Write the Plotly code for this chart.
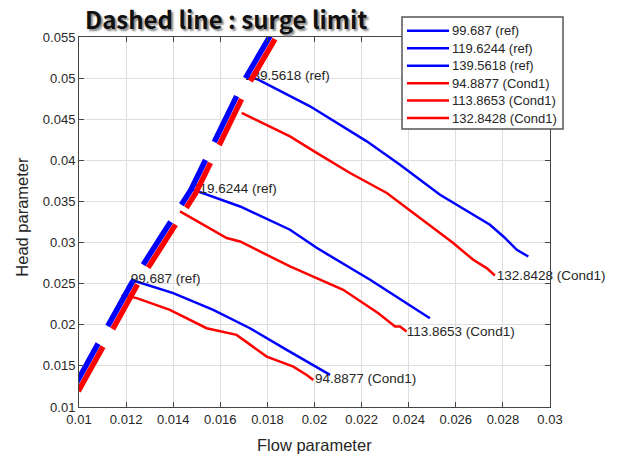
import plotly.graph_objects as go

# ---------------- data ----------------
names = ["99.687 (ref)", "119.6244 (ref)", "139.5618 (ref)",
         "94.8877 (Cond1)", "113.8653 (Cond1)", "132.8428 (Cond1)"]
colors = ["#0000ff", "#0000ff", "#0000ff", "#ff0000", "#ff0000", "#ff0000"]

ref1_x = [0.01220, 0.01400, 0.01570, 0.01726, 0.01882, 0.02009, 0.02066]
ref1_y = [0.02547, 0.02385, 0.02181, 0.01958, 0.01694, 0.01491, 0.01390]

ref2_x = [0.01484, 0.01684, 0.01896, 0.02009, 0.02236, 0.02349, 0.02490]
ref2_y = [0.03643, 0.03439, 0.03156, 0.02936, 0.02547, 0.02343, 0.02080]

ref3_x = [0.01710, 0.01761, 0.01981, 0.02108, 0.02222, 0.02363, 0.02533, 0.02745, 0.02802, 0.02859, 0.02908]
ref3_y = [0.05030, 0.04982, 0.04657, 0.04430, 0.04231, 0.03947, 0.03582, 0.03217, 0.03074, 0.02912, 0.02830]

cond1_x = [0.01181, 0.01245, 0.01386, 0.01542, 0.01669, 0.01797, 0.01910, 0.01967, 0.01995]
cond1_y = [0.02364, 0.02324, 0.02181, 0.01958, 0.01877, 0.01613, 0.01491, 0.01390, 0.01329]

cond2_x = [0.01429, 0.01627, 0.01684, 0.01896, 0.02122, 0.02271, 0.02342, 0.02363, 0.02391]
cond2_y = [0.03379, 0.03055, 0.03013, 0.02709, 0.02425, 0.02141, 0.01978, 0.01978, 0.01917]

cond3_x = [0.01691, 0.01896, 0.02009, 0.02151, 0.02307, 0.02420, 0.02589, 0.02674, 0.02731, 0.02766]
cond3_y = [0.04577, 0.04292, 0.04090, 0.03846, 0.03603, 0.03359, 0.02994, 0.02790, 0.02689, 0.02600]

series_x = [ref1_x, ref2_x, ref3_x, cond1_x, cond2_x, cond3_x]
series_y = [ref1_y, ref2_y, ref3_y, cond1_y, cond2_y, cond3_y]

# surge limit lines (ref = blue, Cond1 = red)
surge_ref_x = [0.00976, 0.01230, 0.01475, 0.01705, 0.01811]
surge_ref_y = [0.01228, 0.02540, 0.03640, 0.04990, 0.05510]
surge_cond_x = [0.00997, 0.01251, 0.01496, 0.01726, 0.01832]
surge_cond_y = [0.01192, 0.02504, 0.03604, 0.04954, 0.05474]

# curve labels (text left edge position)
label_text = names
label_x = [0.01220, 0.01484, 0.01705, 0.02002, 0.02392, 0.02774]
label_y = [0.02547, 0.03643, 0.05019, 0.01329, 0.01901, 0.02583]

x_ticks = [0.01, 0.012, 0.014, 0.016, 0.018, 0.02, 0.022, 0.024, 0.026, 0.028, 0.03]
x_tick_text = ["0.01", "0.012", "0.014", "0.016", "0.018", "0.02", "0.022", "0.024", "0.026", "0.028", "0.03"]
y_ticks = [0.01, 0.015, 0.02, 0.025, 0.03, 0.035, 0.04, 0.045, 0.05, 0.055]
y_tick_text = ["0.01", "0.015", "0.02", "0.025", "0.03", "0.035", "0.04", "0.045", "0.05", "0.055"]

title_text = "Dashed line : surge limit"
x_title = "Flow parameter"
y_title = "Head parameter"

# ---------------- figure ----------------
W, H = 619, 455
L, R, T, B = 79, 69, 37, 48
pw, ph = W - L - R, H - T - B
def px_x(p):
    return (p - L) / pw
def px_y(p):
    return (H - B - p) / ph

FONT = "Liberation Sans, Arial, sans-serif"
TXT = "#262626"

fig = go.Figure()

for xs, ys, c, n in zip(series_x, series_y, colors, names):
    fig.add_trace(go.Scatter(x=xs, y=ys, mode="lines", name=n,
                             line=dict(color=c, width=2.5), showlegend=False))

fig.add_trace(go.Scatter(x=label_x, y=label_y, mode="text", text=label_text,
                         textposition="middle right", cliponaxis=False,
                         textfont=dict(family=FONT, size=13.5, color=TXT),
                         showlegend=False, hoverinfo="skip"))

fig.add_trace(go.Scatter(x=surge_cond_x, y=surge_cond_y, mode="lines",
                         line=dict(color="#ff0000", width=5.5, dash="51px,20px"),
                         showlegend=False))
fig.add_trace(go.Scatter(x=surge_ref_x, y=surge_ref_y, mode="lines",
                         line=dict(color="#0000ff", width=5.5, dash="51px,20px"),
                         showlegend=False))

axis_common = dict(showgrid=True, gridcolor="#dedede", gridwidth=1,
                   showline=True, linecolor="#444444", linewidth=1, mirror="ticks",
                   ticks="inside", ticklen=5, tickcolor="#444444",
                   tickfont=dict(family=FONT, size=13, color=TXT),
                   zeroline=False)

fig.update_xaxes(range=[0.01, 0.03], tickvals=x_ticks, ticktext=x_tick_text, **axis_common)
fig.update_yaxes(range=[0.01, 0.055], tickvals=y_ticks, ticktext=y_tick_text, **axis_common)

shapes = []
annotations = []

# manual legend box
lx0, lx1, ly0, ly1 = 402, 563, 17, 129
shapes.append(dict(type="rect", xref="paper", yref="paper",
                   x0=px_x(lx0), x1=px_x(lx1), y0=px_y(ly1), y1=px_y(ly0),
                   line=dict(color="#555555", width=1.5), fillcolor="white", layer="above"))
row_y = [30.7, 48.3, 65.7, 83.3, 100.5, 118]
for n, c, ry in zip(names, colors, row_y):
    shapes.append(dict(type="line", xref="paper", yref="paper",
                       x0=px_x(407), x1=px_x(449), y0=px_y(ry), y1=px_y(ry),
                       line=dict(color=c, width=2.5), layer="above"))
    annotations.append(dict(text=n, xref="paper", yref="paper", x=px_x(450), y=px_y(ry),
                            xanchor="left", yanchor="middle", showarrow=False,
                            font=dict(family=FONT, size=13, color=TXT)))

annotations.append(dict(text="<b>" + title_text + "</b>", xref="paper", yref="paper",
                        x=px_x(83), y=px_y(18), xanchor="left", yanchor="middle",
                        showarrow=False,
                        font=dict(family="Noto Sans CJK KR, Noto Sans, sans-serif", size=24,
                                  color="#111111", shadow="2px 2px 2px #888888")))
annotations.append(dict(text=x_title, xref="paper", yref="paper", x=0.5, y=px_y(445),
                        xanchor="center", yanchor="middle", showarrow=False,
                        font=dict(family=FONT, size=16.5, color=TXT)))
annotations.append(dict(text=y_title, xref="paper", yref="paper", x=px_x(21.7), y=px_y(217),
                        xanchor="center", yanchor="middle", showarrow=False, textangle=-90,
                        font=dict(family=FONT, size=16.5, color=TXT)))

fig.update_layout(width=W, height=H, margin=dict(l=L, r=R, t=T, b=B),
                  paper_bgcolor="white", plot_bgcolor="white",
                  shapes=shapes, annotations=annotations, showlegend=False)

fig.write_html("out.html")
